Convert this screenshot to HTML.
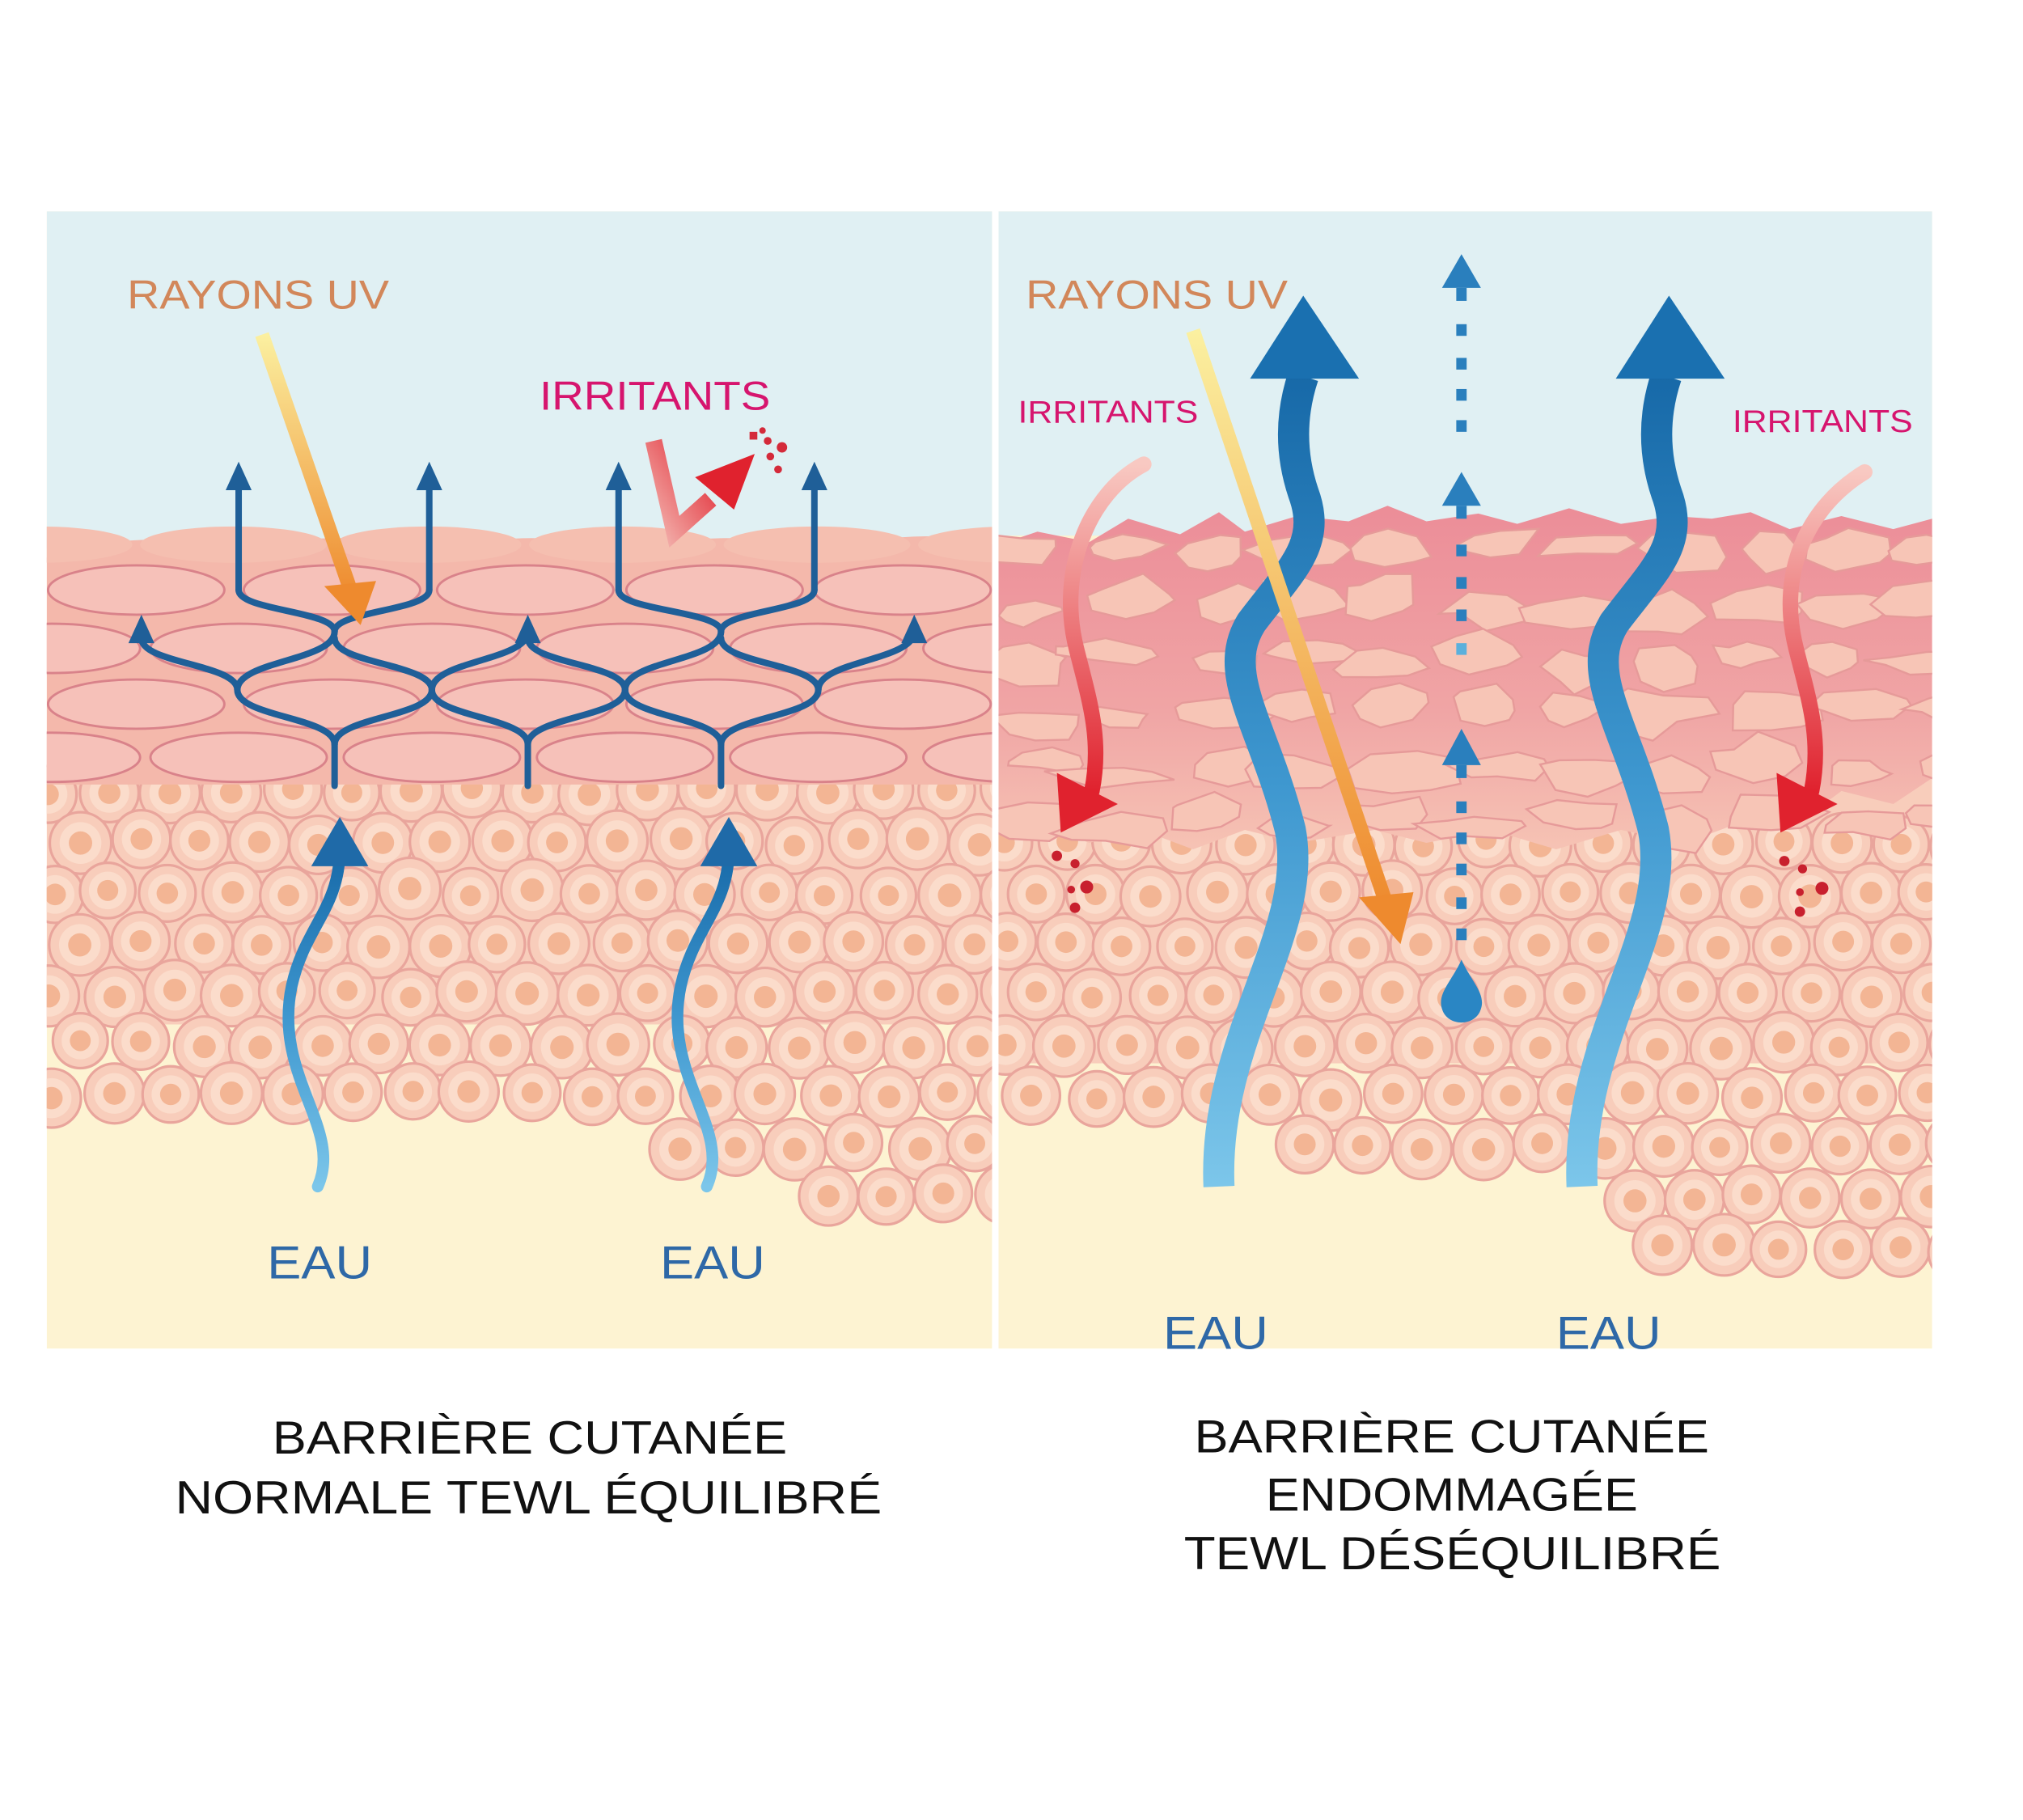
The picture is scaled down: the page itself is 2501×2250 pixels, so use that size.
<!DOCTYPE html>
<html><head><meta charset="utf-8">
<style>
html,body{margin:0;padding:0;background:#fff;}
svg{display:block;}
text{font-family:"Liberation Sans",sans-serif;}
</style></head>
<body>
<svg id="s" width="2501" height="2250" viewBox="0 0 1560 1403.5" xmlns="http://www.w3.org/2000/svg">
<defs>
 <linearGradient id="dmg" x1="0" y1="0" x2="0" y2="1">
  <stop offset="0" stop-color="#ec8d98"/><stop offset="0.6" stop-color="#f0a5a5"/><stop offset="1" stop-color="#f6c3b4"/>
 </linearGradient>
 <linearGradient id="uv" x1="0" y1="0" x2="0" y2="1">
  <stop offset="0" stop-color="#fbf0a0"/><stop offset="1" stop-color="#ee8a2e"/>
 </linearGradient>
 <linearGradient id="wb" x1="0" y1="1" x2="0" y2="0">
  <stop offset="0" stop-color="#7cc6ea"/><stop offset="0.5" stop-color="#3e97cf"/><stop offset="1" stop-color="#1769a8"/>
 </linearGradient>
 <linearGradient id="irr" x1="0" y1="0" x2="0" y2="1">
  <stop offset="0" stop-color="#f8c9c2"/><stop offset="1" stop-color="#e0222e"/>
 </linearGradient>
 <linearGradient id="irr2" x1="0" y1="1" x2="1" y2="0">
  <stop offset="0" stop-color="#f3b3ae"/><stop offset="1" stop-color="#e0222e"/>
 </linearGradient>
 <clipPath id="cL"><rect x="36" y="163" width="729" height="877"/></clipPath>
 <clipPath id="cR"><rect x="770" y="163" width="720" height="877"/></clipPath>
</defs>

<g clip-path="url(#cL)">
 <rect x="36" y="163" width="729" height="877" fill="#fdf3d2"/>
 <rect x="36" y="163" width="729" height="260" fill="#e0f0f3"/>
 <g id="cellsL"></g>
 <g id="layersL"></g>
</g>

<g clip-path="url(#cR)">
 <rect x="770" y="163" width="720" height="877" fill="#fdf3d2"/>
 <rect x="770" y="163" width="720" height="250" fill="#e0f0f3"/>
 <g id="cellsR"></g>
 <path d="M770,420 L800,410 840,418 870,400 910,412 940,395 960,410 1000,398 1040,402 1070,390 1100,402 1140,396 1170,404 1210,392 1250,404 1290,398 1320,400 1350,395 1380,408 1420,398 1460,408 1490,400 L1490,600 1460,620 1420,610 1380,640 1340,635 1300,650 1250,640 1200,655 1150,640 1100,650 1060,640 1000,650 960,640 920,655 880,640 840,650 800,635 770,640 Z" fill="url(#dmg)"/>
 <g id="fragR"></g>
</g>

<g id="netL" fill="none" stroke="#1f5f98" stroke-width="5" stroke-linecap="round"></g>
<g fill="#1f5f98">
 <polygon points="184,356 174,378 194,378"/><polygon points="331,356 321,378 341,378"/>
 <polygon points="477,356 467,378 487,378"/><polygon points="628,356 618,378 638,378"/>
 <polygon points="109,474 99,496 119,496"/><polygon points="407,474 397,496 417,496"/><polygon points="705,474 695,496 715,496"/>
</g>
<path d="M202,258 L272,460" stroke="url(#uv)" stroke-width="11" fill="none"/>
<polygon points="250,452 290,448 278,482" fill="#ee8a2e"/>
<path d="M504,340 L520,410 L548,385" stroke="url(#irr2)" stroke-width="13" fill="none"/>
<polygon points="536,368 582,350 566,393" fill="#e0222e"/>
<g fill="#d42a3a"><rect x="578" y="333" width="6" height="6"/><circle cx="592" cy="340" r="3"/><circle cx="603" cy="345" r="4"/><circle cx="594" cy="352" r="3"/><circle cx="600" cy="362" r="3"/><circle cx="588" cy="332" r="2.5"/></g>
<path d="M245,915 C265,870 210,830 225,760 C235,715 262,700 262,655" stroke="url(#wb)" stroke-width="9" fill="none" stroke-linecap="round"/>
<polygon points="262,630 240,668 284,668" fill="#1f6aa8"/>
<path d="M545,915 C565,870 510,830 525,760 C535,715 562,700 562,655" stroke="url(#wb)" stroke-width="9" fill="none" stroke-linecap="round"/>
<polygon points="562,630 540,668 584,668" fill="#1f6aa8"/>

<path d="M940,915 C935,800 1010,720 995,640 C975,560 940,520 965,480 C995,440 1020,420 1005,380 C995,350 995,320 1005,290" stroke="url(#wb)" stroke-width="24" fill="none"/>
<polygon points="1005,228 964,292 1048,292" fill="#1a70b0"/>
<path d="M1220,915 C1215,800 1290,720 1275,640 C1255,560 1220,520 1245,480 C1275,440 1300,420 1285,380 C1275,350 1275,320 1285,290" stroke="url(#wb)" stroke-width="24" fill="none"/>
<polygon points="1287,228 1246,292 1330,292" fill="#1a70b0"/>
<g fill="#2a7fbd">
 <polygon points="1127,196 1112,222 1142,222"/><rect x="1123" y="222" width="8" height="10"/>
 <rect x="1123" y="250" width="8" height="9"/><rect x="1123" y="276" width="8" height="9"/><rect x="1123" y="300" width="8" height="9"/><rect x="1123" y="324" width="8" height="9"/>
 <polygon points="1127,364 1112,390 1142,390"/><rect x="1123" y="390" width="8" height="10"/>
 <rect x="1123" y="420" width="8" height="9"/><rect x="1123" y="445" width="8" height="9"/><rect x="1123" y="470" width="8" height="9"/><rect x="1123" y="496" width="8" height="9" fill="#5bb0dc"/>
 <polygon points="1127,562 1112,590 1142,590"/><rect x="1123" y="590" width="8" height="10"/>
 <rect x="1123" y="618" width="8" height="9"/><rect x="1123" y="642" width="8" height="9"/><rect x="1123" y="666" width="8" height="9"/><rect x="1123" y="692" width="8" height="9"/><rect x="1123" y="716" width="8" height="9"/>
 <path d="M1127,740 C1120,756 1108,766 1112,778 C1116,792 1138,792 1142,778 C1146,766 1134,756 1127,740Z" fill="#2a86c4"/>
</g>
<path d="M920,255 L1070,700" stroke="url(#uv)" stroke-width="11" fill="none"/>
<polygon points="1048,692 1090,688 1080,728" fill="#ee8a2e"/>
<path d="M882,358 C840,380 815,440 830,500 C840,540 850,570 842,610" stroke="url(#irr)" stroke-width="12" fill="none" stroke-linecap="round"/>
<polygon points="815,596 862,620 818,642" fill="#e0222e"/>
<path d="M1438,364 C1395,390 1370,440 1385,500 C1395,540 1405,570 1397,610" stroke="url(#irr)" stroke-width="12" fill="none" stroke-linecap="round"/>
<polygon points="1370,596 1417,620 1373,642" fill="#e0222e"/>
<g fill="#c8202e"><circle cx="815" cy="660" r="4"/><circle cx="829" cy="666" r="3.5"/><circle cx="838" cy="684" r="5"/><circle cx="826" cy="686" r="3"/><circle cx="829" cy="700" r="4"/>
<circle cx="1376" cy="664" r="4"/><circle cx="1390" cy="670" r="3.5"/><circle cx="1405" cy="685" r="5"/><circle cx="1388" cy="688" r="3"/><circle cx="1388" cy="703" r="4"/></g>

<g lengthAdjust="spacingAndGlyphs">
<text x="98" y="238" font-size="31" fill="#d2875a" textLength="202" lengthAdjust="spacingAndGlyphs">RAYONS UV</text>
<text x="416" y="316" font-size="31" fill="#d6156e" textLength="178" lengthAdjust="spacingAndGlyphs">IRRITANTS</text>
<text x="206" y="986" font-size="36" fill="#2e68a7" textLength="81" lengthAdjust="spacingAndGlyphs">EAU</text>
<text x="509" y="986" font-size="36" fill="#2e68a7" textLength="81" lengthAdjust="spacingAndGlyphs">EAU</text>
<text x="791" y="238" font-size="31" fill="#d2875a" textLength="202" lengthAdjust="spacingAndGlyphs">RAYONS UV</text>
<text x="785" y="326" font-size="24" fill="#d6156e" textLength="139" lengthAdjust="spacingAndGlyphs">IRRITANTS</text>
<text x="1336" y="333" font-size="24" fill="#d6156e" textLength="139" lengthAdjust="spacingAndGlyphs">IRRITANTS</text>
<text x="897" y="1040" font-size="36" fill="#2e68a7" textLength="81" lengthAdjust="spacingAndGlyphs">EAU</text>
<text x="1200" y="1040" font-size="36" fill="#2e68a7" textLength="81" lengthAdjust="spacingAndGlyphs">EAU</text>
</g>

<g font-size="36" fill="#111">
 <text x="210" y="1121" textLength="397" lengthAdjust="spacingAndGlyphs">BARRIÈRE CUTANÉE</text>
 <text x="135" y="1167" textLength="545" lengthAdjust="spacingAndGlyphs">NORMALE TEWL ÉQUILIBRÉ</text>
 <text x="921" y="1120" textLength="397" lengthAdjust="spacingAndGlyphs">BARRIÈRE CUTANÉE</text>
 <text x="976" y="1165" textLength="287" lengthAdjust="spacingAndGlyphs">ENDOMMAGÉE</text>
 <text x="913" y="1210" textLength="414" lengthAdjust="spacingAndGlyphs">TEWL DÉSÉQUILIBRÉ</text>
</g>
</svg>
<script>
(function(){
var NS="http://www.w3.org/2000/svg";
function el(p,t,a){var e=document.createElementNS(NS,t);for(var k in a)e.setAttribute(k,a[k]);p.appendChild(e);return e;}
var seed=7;function rnd(){seed=(seed*16807)%2147483647;return seed/2147483647;}
function cells(g,x0,x1,y0,bound){
 var r=23,row=0;
 for(var y=y0;y<1060;y+=r*1.7){
  for(var x=x0+(row%2?r:0);x<x1+r;x+=r*2){
   var cx=x+(rnd()-0.5)*6,cy=y+(rnd()-0.5)*6;
   if(cy>bound(cx))continue;
   var rr=r*(0.92+rnd()*0.12);
   el(g,'circle',{cx:cx,cy:cy,r:rr,fill:'#f8cdbb',stroke:'#e9a59c','stroke-width':2});
   el(g,'circle',{cx:cx,cy:cy,r:rr*0.68,fill:'#fbdccb',stroke:'none'});
   el(g,'circle',{cx:cx,cy:cy,r:rr*0.38,fill:'#f3b594'});
  }row++;}
}
var gL=document.getElementById('cellsL');
el(gL,'rect',{x:36,y:590,width:729,height:200,fill:'#f8cdbb'});
cells(gL,40,765,610,function(x){if(x<200)return 850;if(x<300)return 865;if(x<510)return 860;if(x<600)return 895;return 935;});
var gR=document.getElementById('cellsR');
el(gR,'rect',{x:770,y:600,width:720,height:220,fill:'#f8cdbb'});
cells(gR,775,1490,650,function(x){if(x<1000)return 880;if(x<1260)return 915;return 970;});
var ly=document.getElementById('layersL');
el(ly,'path',{d:'M36,430 Q110,405 185,425 Q260,405 335,425 Q410,405 485,425 Q560,405 635,425 Q710,405 765,420 L765,605 L36,605 Z',fill:'#f4b8ab'});
var rows=[[420,[30,180,330,480,630,780]],[455,[105,256,405,551,696]],[500,[40,184,333,482,631,780]],[543,[105,256,405,551,696]],[584,[40,184,333,482,631,780]]];
rows.forEach(function(rw,i){rw[1].forEach(function(cx){
 if(i==0) el(ly,'ellipse',{cx:cx,cy:rw[0],rx:72,ry:14,fill:'#f5bfb0',stroke:'none'});
 else el(ly,'ellipse',{cx:cx,cy:rw[0],rx:68,ry:19,fill:'#f6c1b9',stroke:'#d9828a','stroke-width':1.8});
});});
var n=document.getElementById('netL');
function S(x1,y1,x2,y2){var m=(y1+y2)/2;el(n,'path',{d:'M'+x1+','+y1+' C'+x1+','+m+' '+x2+','+m+' '+x2+','+y2});}
[258,407,556].forEach(function(x){el(n,'line',{x1:x,y1:606,x2:x,y2:574});});
[[258,183,333],[407,333,482],[556,482,631]].forEach(function(a){S(a[0],574,a[1],532);S(a[0],574,a[2],532);});
[[183,109,258],[333,258,407],[482,407,556],[631,556,705]].forEach(function(a){S(a[0],532,a[1],492);S(a[0],532,a[2],487);});
[[258,184,331],[556,477,628]].forEach(function(a){S(a[0],487,a[1],455);S(a[0],487,a[2],455);el(n,'line',{x1:a[1],y1:455,x2:a[1],y2:375});el(n,'line',{x1:a[2],y1:455,x2:a[2],y2:375});});
var f=document.getElementById('fragR');
seed=42;
for(var y=420;y<640;y+=42){for(var x=780;x<1490;x+=70){
 var cx=x+rnd()*30,cy=y+rnd()*16,w=28+rnd()*22,h=10+rnd()*10,pts=[];
 for(var k=0;k<8;k++){var a=k/8*Math.PI*2+rnd()*0.3;var s=0.7+rnd()*0.4;pts.push((cx+Math.cos(a)*w*s).toFixed(1)+','+(cy+Math.sin(a)*h*s-(rnd()*8)).toFixed(1));}
 el(f,'polygon',{points:pts.join(' '),fill:'#f7c5b6',stroke:'#e69a99','stroke-width':1.5});
}}
})();
</script>
</body></html>
